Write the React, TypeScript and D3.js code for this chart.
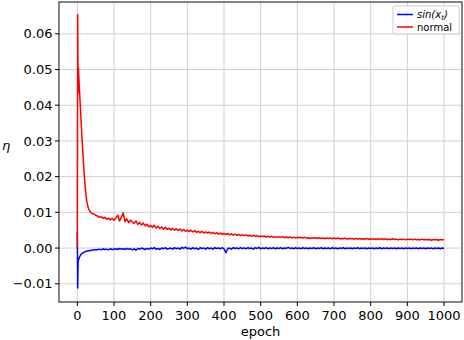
import React from 'react';
import * as d3 from 'd3';

// epochs: dense at the start, then every 5 epochs
const headEpochs = [0, 1, 2, 3, 4, 6, 8, 10, 12, 14, 16, 18, 20, 22, 24, 26, 28, 30, 33, 36, 40, 45, 50];
const tailEpochs = d3.range(55, 1001, 5);
const epochs = headEpochs.concat(tailEpochs);

const sinHead = [0.0045, -0.0112, -0.004, -0.0034, -0.003, -0.0025, -0.0021, -0.0018, -0.0016, -0.0014, -0.0013, -0.0012,
  -0.0011, -0.001, -0.0009, -0.0009, -0.0008, -0.0008, -0.0007, -0.0007, -0.0006, -0.0005, -0.0005];
const sinTail = [
  -0.0005, -0.0003, -0.0005, -0.0002, -0.0004, -0.0003, -0.0005, -0.0002, -0.0004, -0.0003,
  -0.0002, -0.0004, -0.0001, -0.0003, -0.0002, -0.0004, -0.0001, -0.0003, -0.0002, -0.0005,
  -0.0002, -0.0006, -0.0001, -0.0003, 0.0, -0.0002, -0.0004, -0.0001, -0.0003, 0.0,
  -0.0002, 0.0001, -0.0003, -0.0001, -0.0004, 0.0, -0.0002, 0.0001, -0.0003, -0.0001,
  0.0, -0.0003, 0.0001, -0.0002, 0.0, -0.0003, 0.0002, -0.0001, 0.0003, -0.0002,
  0.0, -0.0003, 0.0001, -0.0002, 0.0, -0.0004, 0.0001, -0.0001, 0.0, -0.0003,
  0.0001, -0.0002, 0.0, -0.0003, 0.0001, -0.0001, 0.0, -0.0002, 0.0001, -0.0002,
  -0.0013, -0.0002, 0.0, -0.0003, 0.0001, -0.0001, 0.0, -0.0002, 0.0001, -0.0001,
  0.0, -0.0002, 0.0001, -0.0001, 0.0, -0.0003, 0.0001, -0.0001, 0.0002, -0.0002,
  0.0, -0.0001, 0.0001, -0.0002, 0.0, -0.0001, 0.0001, -0.0002, 0.0, -0.0001,
  0.0001, -0.0002, 0.0, -0.0001, 0.0002, -0.0001, 0.0, -0.0002, 0.0001, -0.0001,
  0.0, -0.0002, 0.0001, -0.0001, 0.0, -0.0002, 0.0, -0.0001, 0.0001, -0.0002,
  0.0, -0.0001, 0.0001, -0.0002, 0.0, -0.0001, 0.0, -0.0002, 0.0001, -0.0001,
  0.0, -0.0002, 0.0, -0.0001, 0.0001, -0.0002, 0.0, -0.0001, 0.0, -0.0002,
  0.0, -0.0001, 0.0001, -0.0002, 0.0, -0.0001, 0.0, -0.0002, 0.0, -0.0001,
  0.0, -0.0002, 0.0, -0.0001, 0.0001, -0.0002, 0.0, -0.0001, 0.0, -0.0002,
  0.0, -0.0001, 0.0, -0.0002, 0.0, -0.0001, 0.0, -0.0002, 0.0, -0.0001,
  0.0, -0.0002, 0.0, -0.0001, 0.0, -0.0002, 0.0, -0.0001, 0.0, -0.0002,
  0.0, -0.0001, 0.0, -0.0002, 0.0, -0.0001, 0.0, -0.0002, 0.0, -0.0001,
];

const normalHead = [0.0, 0.0653, 0.0434, 0.0505, 0.048, 0.044, 0.04, 0.036, 0.0322, 0.0285, 0.025, 0.0218,
  0.019, 0.0165, 0.0145, 0.013, 0.012, 0.0112, 0.0105, 0.0101, 0.0097, 0.0095, 0.0092];
const normalTail = [
  0.009, 0.0086, 0.0088, 0.0083, 0.0086, 0.0081, 0.0084, 0.0079, 0.0083, 0.0078,
  0.0084, 0.0092, 0.0076, 0.0085, 0.0099, 0.0074, 0.0082, 0.0071, 0.0078, 0.0073,
  0.0069, 0.0076, 0.0066, 0.0072, 0.0064, 0.007, 0.0062, 0.0067, 0.0059, 0.0063,
  0.0058, 0.0064, 0.0056, 0.0061, 0.0055, 0.0059, 0.0053, 0.0058, 0.0052, 0.0056,
  0.0051, 0.0055, 0.005, 0.0054, 0.0049, 0.0053, 0.0048, 0.0052, 0.0047, 0.005,
  0.0046, 0.005, 0.0045, 0.0049, 0.0044, 0.0047, 0.0043, 0.0047, 0.0042, 0.0045,
  0.0042, 0.0045, 0.0041, 0.0044, 0.004, 0.0043, 0.0039, 0.0042, 0.0038, 0.0041,
  0.0038, 0.0041, 0.0037, 0.004, 0.0036, 0.0039, 0.0036, 0.0038, 0.0035, 0.0037,
  0.0035, 0.0037, 0.0034, 0.0036, 0.0033, 0.0036, 0.0033, 0.0035, 0.0032, 0.0034,
  0.0032, 0.0034, 0.0031, 0.0033, 0.0031, 0.0033, 0.003, 0.0032, 0.003, 0.0032,
  0.003, 0.0032, 0.0029, 0.0031, 0.0029, 0.0031, 0.0029, 0.003, 0.0028, 0.003,
  0.0029, 0.003, 0.0028, 0.003, 0.0028, 0.0029, 0.0027, 0.0029, 0.0028, 0.0029,
  0.0027, 0.0029, 0.0027, 0.0028, 0.0026, 0.0028, 0.0027, 0.0028, 0.0026, 0.0028,
  0.0026, 0.0028, 0.0026, 0.0027, 0.0026, 0.0028, 0.0025, 0.0027, 0.0026, 0.0027,
  0.0025, 0.0027, 0.0025, 0.0027, 0.0025, 0.0026, 0.0025, 0.0027, 0.0024, 0.0026,
  0.0025, 0.0026, 0.0024, 0.0026, 0.0025, 0.0026, 0.0024, 0.0026, 0.0024, 0.0025,
  0.0024, 0.0026, 0.0024, 0.0025, 0.0023, 0.0025, 0.0024, 0.0025, 0.0023, 0.0025,
  0.0024, 0.0025, 0.0023, 0.0025, 0.0023, 0.0024, 0.0023, 0.0025, 0.0023, 0.0024,
  0.0023, 0.0024, 0.0022, 0.0024, 0.0023, 0.0024, 0.0022, 0.0024, 0.0023, 0.0023,
];

const sinValues = sinHead.concat(sinTail);
const normalValues = normalHead.concat(normalTail);

const xTicks = [0, 100, 200, 300, 400, 500, 600, 700, 800, 900, 1000];
const yTicks = [-0.01, 0.0, 0.01, 0.02, 0.03, 0.04, 0.05, 0.06];

const W = 464;
const H = 340;
const plot = { left: 59, right: 462, top: 2, bottom: 302 };
const font = 'DejaVu Sans, sans-serif';

export default function App() {
  const x = d3.scaleLinear().domain([-50, 1049]).range([plot.left, plot.right]);
  const y = d3.scaleLinear().domain([-0.0151, 0.0689]).range([plot.bottom, plot.top]);
  const fmt = (v: number) => d3.format('.2f')(v).replace('-', '\u2212');

  const line = d3
    .line<number>()
    .x((d, i) => x(epochs[i]))
    .y((d) => y(d));

  return (
    <svg width={W} height={H} style={{ position: 'absolute', left: 0, top: 0, background: '#fff' }}>
      <defs>
        <clipPath id="plotclip">
          <rect x={plot.left} y={plot.top} width={plot.right - plot.left} height={plot.bottom - plot.top} />
        </clipPath>
      </defs>
      <rect x={0} y={0} width={W} height={H} fill="#fff" />

      {/* grid */}
      <g stroke="#cfcfcf" strokeWidth={1}>
        {xTicks.map((t) => (
          <line key={'gx' + t} x1={x(t)} x2={x(t)} y1={plot.top} y2={plot.bottom} />
        ))}
        {yTicks.map((t) => (
          <line key={'gy' + t} x1={plot.left} x2={plot.right} y1={y(t)} y2={y(t)} />
        ))}
      </g>

      <g clipPath="url(#plotclip)" fill="none" strokeWidth={1.5} strokeLinejoin="round">
        <path d={line(sinValues) || ''} stroke="#0000ff" />
        <path d={line(normalValues) || ''} stroke="#ff0000" />
      </g>

      {/* frame */}
      <rect x={plot.left} y={plot.top} width={plot.right - plot.left} height={plot.bottom - plot.top}
        fill="none" stroke="#333" strokeWidth={1.2} />

      {/* x axis */}
      <g fontFamily={font} fontSize={13} fill="#000" textAnchor="middle">
        {xTicks.map((t) => (
          <g key={'xt' + t}>
            <line x1={x(t)} x2={x(t)} y1={plot.bottom} y2={plot.bottom + 4} stroke="#000" strokeWidth={1} />
            <text x={x(t)} y={319.5}>{t}</text>
          </g>
        ))}
        <text x={(plot.left + plot.right) / 2} y={335.5}>epoch</text>
      </g>

      {/* y axis */}
      <g fontFamily={font} fontSize={13} fill="#000" textAnchor="end">
        {yTicks.map((t) => (
          <g key={'yt' + t}>
            <line x1={plot.left - 4} x2={plot.left} y1={y(t)} y2={y(t)} stroke="#000" strokeWidth={1} />
            <text x={52.5} y={y(t)} dy="0.36em">{fmt(t)}</text>
          </g>
        ))}
      </g>
      <text x={6} y={150} fontFamily={font} fontSize={13} fontStyle="italic" textAnchor="middle">η</text>

      {/* legend */}
      <g fontFamily={font} fontSize={10}>
        <rect x={393} y={6} width={66} height={28} rx={2} fill="#fff" fillOpacity={0.8} stroke="#ccc" strokeWidth={1} />
        <line x1={397} x2={413} y1={14.5} y2={14.5} stroke="#0000ff" strokeWidth={1.5} />
        <text x={417} y={18} fontStyle="italic">
          sin(x<tspan fontSize={7} dy={2}>t</tspan><tspan dy={-2}>)</tspan>
        </text>
        <line x1={397} x2={413} y1={27} y2={27} stroke="#ff0000" strokeWidth={1.5} />
        <text x={417} y={30.5}>normal</text>
      </g>
    </svg>
  );
}
